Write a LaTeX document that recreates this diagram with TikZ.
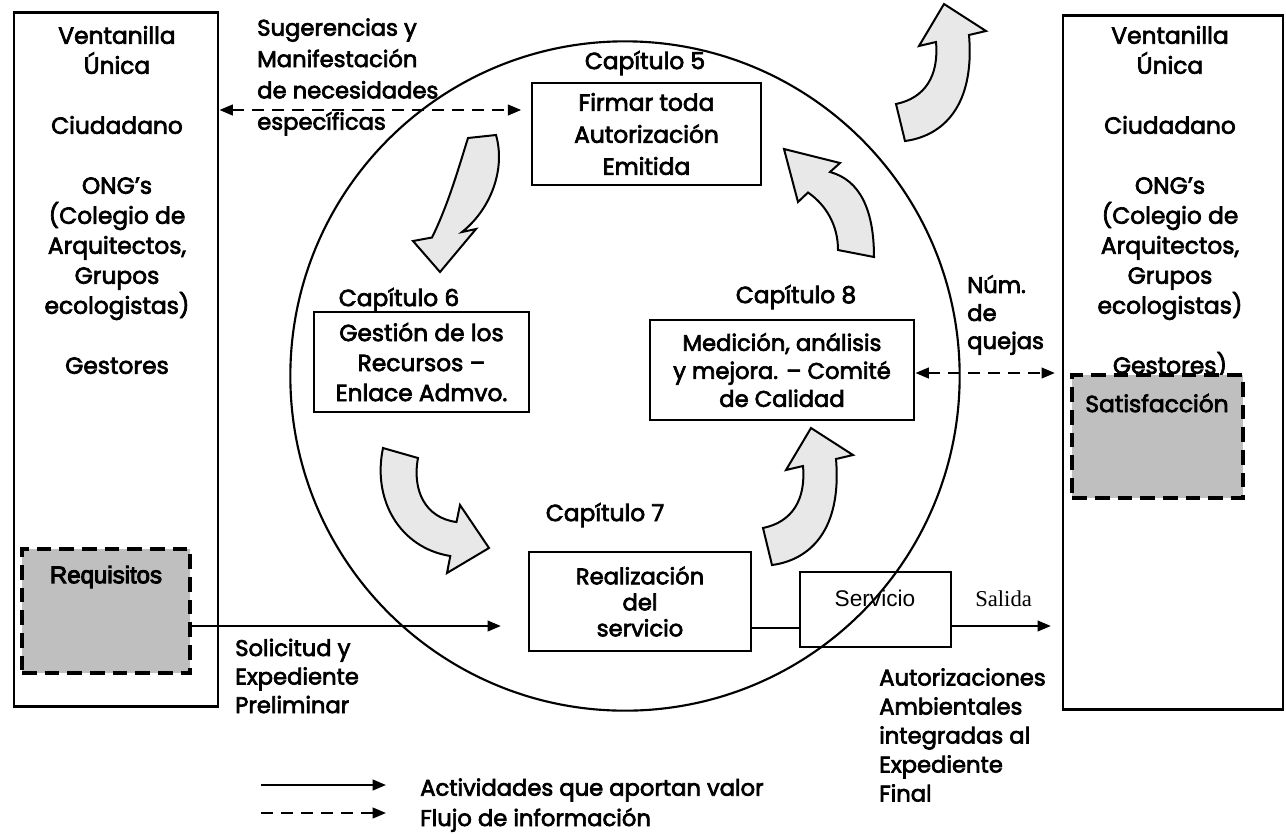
\documentclass[tikz,border=0pt]{standalone}
\usepackage{fontspec}
\setmainfont{Poppins}[FakeBold=3]
\newfontfamily\arialf{Liberation Sans}
\newfontfamily\arialbf{Liberation Sans}[FakeBold=4]
\newfontfamily\timesf{Liberation Serif}
\usetikzlibrary{arrows.meta}

\begin{document}
\begin{tikzpicture}[x=0.75pt,y=-0.75pt,
  frame/.style={draw, line width=2.2pt, rectangle, inner sep=0pt, align=center,
    font=\fontsize{17.5}{24}\selectfont},
  dashframe/.style={draw, line width=3pt, dash pattern=on 11pt off 6pt,
    fill=black!25, rectangle, inner sep=0pt},
  txt/.style={font=\fontsize{17.5}{22.5}\selectfont, align=center, inner sep=0pt},
  ltxt/.style={font=\fontsize{17}{22}\selectfont, align=left, inner sep=0pt, anchor=west},
  bendarrow/.style={draw, line width=1.5pt, fill=black!9, line join=miter},
  tipped/.style={-{Triangle[length=10pt,width=8pt]}},
  twotipped/.style={{Triangle[length=10pt,width=8pt]}-{Triangle[length=10pt,width=8pt]}},
  infoline/.style={line width=1.5pt, dash pattern=on 9pt off 6pt},
  valueline/.style={line width=1.5pt},
]
\useasboundingbox (0,0) rectangle (1286,833);

% ---------- the central cycle ----------
\node[draw, circle, line width=1.6pt, minimum size=502pt, inner sep=0pt] (cyc) at (625,376) {};

% ---------- side boxes ----------
\node[frame, minimum width=153pt, minimum height=521pt] (lbox) at (116,359.5) {};
\node[frame, minimum width=165pt, minimum height=520pt] (rbox) at (1173,362.5) {};

\node[txt] (ltext) at (117,200) {Ventanilla\\Única\\~\\Ciudadano\\~\\ONG's\\(Colegio de\\Arquitectos,\\Grupos\\ecologistas)\\~\\Gestores};
\node[txt] (rtext) at (1170,202) {Ventanilla\\Única\\~\\Ciudadano\\~\\ONG's\\(Colegio de\\Arquitectos,\\Grupos\\ecologistas)\\~\\Gestores)};

\node[dashframe, minimum width=126pt, minimum height=93pt] (req) at (106,611) {};
\node[font=\arialbf\fontsize{18}{22}\selectfont, inner sep=0pt] (reqt) at (106,577) {Requisitos};

\node[dashframe, minimum width=128pt, minimum height=92pt] (sat) at (1157.5,436.5) {};
\node[txt] (satt) at (1157,403) {Satisfacción};

% ---------- chapter boxes ----------
\node[txt] (c5) at (645,63) {Capítulo 5};
\node[frame, minimum width=171.75pt, minimum height=76.5pt] (cap5) at (646.5,134)
  {Firmar toda\\Autorización\\Emitida};

\node[txt] (c6) at (399,300) {Capítulo 6};
\node[frame, minimum width=161.25pt, minimum height=75pt,
  font=\fontsize{17.5}{22.5}\selectfont] (cap6) at (421.5,362)
  {Gestión de los\\Recursos –\\Enlace Admvo.};

\node[txt] (c8) at (796,297) {Capítulo 8};
\node[frame, minimum width=198pt, minimum height=75pt,
  font=\fontsize{17}{21}\selectfont] (cap8) at (782,370)
  {Medición, análisis\\y mejora. – Comité\\de Calidad};

\node[txt] (c7) at (605,515) {Capítulo 7};
\node[frame, minimum width=166.5pt, minimum height=74.25pt,
  font=\fontsize{17}{19.5}\selectfont] (real) at (640,601.5)
  {Realización\\del\\servicio};

\node[frame, minimum width=113.25pt, minimum height=56.25pt] (serv) at (875.5,609.5) {};
\node[font=\arialf\fontsize{17}{20}\selectfont, inner sep=0pt] (servt) at (875,598) {Servicio};
\node[font=\timesf\fontsize{17}{20}\selectfont, inner sep=0pt, anchor=west] (salida) at (975,599) {Salida};

% ---------- free labels ----------
\node[ltxt, font=\fontsize{17}{23.5}\selectfont] (sug) at (257,77)
  {Sugerencias y\\Manifestación\\de necesidades\\específicas};
\node[ltxt, font=\fontsize{17}{21}\selectfont] (quejas) at (967,315) {Núm.\\de\\quejas};
\node[ltxt, font=\fontsize{17}{21.4}\selectfont] (solic) at (235,676)
  {Solicitud y\\Expediente\\Preliminar};
\node[ltxt, font=\fontsize{17}{21.75}\selectfont] (autor) at (879,735)
  {Autorizaciones\\Ambientales\\integradas al\\Expediente\\Final};

% ---------- connectors ----------
\draw[infoline, twotipped, shorten >=7pt] (lbox.east |- 0,110) -- (cap5.west |- 0,110);
\draw[infoline, twotipped, shorten >=5pt] (cap8.east |- 0,373) -- (rbox.west |- 0,373);
\draw[valueline, tipped, shorten >=20pt] (req.east |- 0,626) -- (real.west |- 0,626);
\draw[valueline] (real.east |- 0,628) -- (serv.west |- 0,628);
\draw[valueline, tipped, shorten >=8pt] (serv.east |- 0,626) -- (rbox.west |- 0,626);

% ---------- curved block arrows of the cycle ----------
% chapter 5 -> chapter 6
\draw[bendarrow] (468,138) -- (496,135)
  .. controls (506,170) and (490,210) .. (462,232)
  -- (476,229) -- (440,272) -- (413,241) -- (432,237.5)
  .. controls (448,205) and (458,170) .. cycle;
% chapter 6 -> chapter 7
\draw[bendarrow] (383,448) -- (418,458)
  .. controls (412,490) and (425,518) .. (456.5,522)
  -- (460,505) -- (489,548) -- (447,573) -- (450.3,556)
  .. controls (400,548) and (372,500) .. cycle;
% chapter 7 -> chapter 8
\draw[bendarrow] (763,528) -- (772,565)
  .. controls (810,560) and (842,530) .. (836,459)
  -- (853,455) -- (811,428) -- (786,470) -- (803,466)
  .. controls (806,500) and (792,522) .. cycle;
% chapter 8 -> chapter 5
\draw[bendarrow] (838,250) -- (874,257)
  .. controls (874,210) and (860,180) .. (830,172)
  -- (840,163) -- (784,149) -- (798,202) -- (808,192.5)
  .. controls (826,205) and (838,225) .. cycle;
% outgoing arrow towards the customer
\draw[bendarrow] (896,104) -- (905,141)
  .. controls (943,136) and (975,106) .. (969,35)
  -- (986,31) -- (944,4) -- (919,46) -- (936,42)
  .. controls (939,76) and (925,98) .. cycle;

% ---------- legend ----------
\coordinate (la) at (261,785);
\coordinate (lb) at (386,785);
\coordinate (lc) at (261,813);
\coordinate (ld) at (386,813);
\draw[valueline, tipped] (la) -- (lb);
\draw[infoline, tipped] (lc) -- (ld);
\node[ltxt] (leg1) at (420,790) {Actividades que aportan valor};
\node[ltxt] (leg2) at (420,820) {Flujo de información};
\end{tikzpicture}
\end{document}
